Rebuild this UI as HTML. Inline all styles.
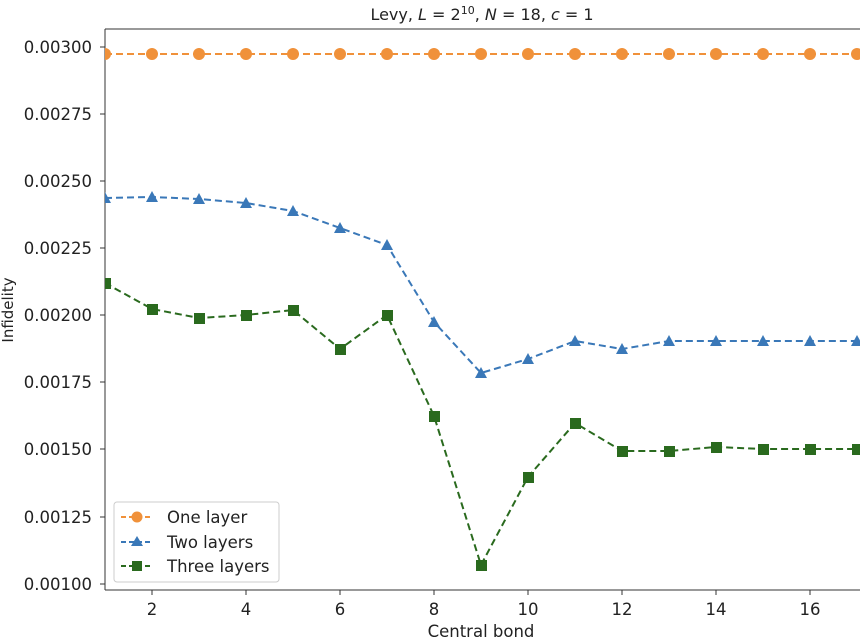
<!DOCTYPE html>
<html><head><style>body{margin:0;background:#fff}svg{display:block}text{font-family:"DejaVu Sans","Liberation Sans",sans-serif;fill:#222}</style></head>
<body>
<svg width="860" height="639" viewBox="0 0 860 639" xmlns="http://www.w3.org/2000/svg">
<defs><clipPath id="c"><rect x="105" y="29" width="755" height="561"/></clipPath></defs>
<text x="482" y="20" font-size="16" text-anchor="middle">Levy, <tspan font-style="italic">L</tspan> = 2<tspan font-size="11" dy="-6">10</tspan><tspan dy="6">, </tspan><tspan font-style="italic">N</tspan> = 18, <tspan font-style="italic">c</tspan> = 1</text>
<g stroke="#333" stroke-width="1">
<line x1="105" y1="29" x2="105" y2="590"/><line x1="105" y1="29" x2="860" y2="29"/><line x1="105" y1="590" x2="860" y2="590"/>
<line x1="100" y1="47" x2="105" y2="47"/><line x1="100" y1="114" x2="105" y2="114"/><line x1="100" y1="181" x2="105" y2="181"/><line x1="100" y1="248" x2="105" y2="248"/><line x1="100" y1="315" x2="105" y2="315"/><line x1="100" y1="382" x2="105" y2="382"/><line x1="100" y1="449" x2="105" y2="449"/><line x1="100" y1="517" x2="105" y2="517"/><line x1="100" y1="584" x2="105" y2="584"/>
<line x1="152" y1="590" x2="152" y2="595"/><line x1="246" y1="590" x2="246" y2="595"/><line x1="340" y1="590" x2="340" y2="595"/><line x1="434" y1="590" x2="434" y2="595"/><line x1="528" y1="590" x2="528" y2="595"/><line x1="622" y1="590" x2="622" y2="595"/><line x1="716" y1="590" x2="716" y2="595"/><line x1="810" y1="590" x2="810" y2="595"/>
</g>
<g font-size="16.5" text-anchor="end">
<text x="92" y="53">0.00300</text><text x="92" y="120">0.00275</text><text x="92" y="187">0.00250</text><text x="92" y="254">0.00225</text><text x="92" y="321">0.00200</text><text x="92" y="388">0.00175</text><text x="92" y="455">0.00150</text><text x="92" y="523">0.00125</text><text x="92" y="590">0.00100</text>
</g>
<g font-size="16.5" text-anchor="middle">
<text x="152" y="615">2</text><text x="246" y="615">4</text><text x="340" y="615">6</text><text x="434" y="615">8</text><text x="528" y="615">10</text><text x="622" y="615">12</text><text x="716" y="615">14</text><text x="810" y="615">16</text>
<text x="481" y="637">Central bond</text>
</g>
<text x="13" y="310" font-size="15" text-anchor="middle" transform="rotate(-90 13 310)">Infidelity</text>
<g clip-path="url(#c)">
<polyline fill="none" stroke="#f0913a" stroke-width="2" stroke-dasharray="7,4" points="105,54 857,54"/>
<g fill="#f0913a"><circle cx="105" cy="54" r="6"/><circle cx="152" cy="54" r="6"/><circle cx="199" cy="54" r="6"/><circle cx="246" cy="54" r="6"/><circle cx="293" cy="54" r="6"/><circle cx="340" cy="54" r="6"/><circle cx="387" cy="54" r="6"/><circle cx="434" cy="54" r="6"/><circle cx="481" cy="54" r="6"/><circle cx="528" cy="54" r="6"/><circle cx="575" cy="54" r="6"/><circle cx="622" cy="54" r="6"/><circle cx="669" cy="54" r="6"/><circle cx="716" cy="54" r="6"/><circle cx="763" cy="54" r="6"/><circle cx="810" cy="54" r="6"/><circle cx="857" cy="54" r="6"/></g>
<polyline fill="none" stroke="#3a78b8" stroke-width="2" stroke-dasharray="7,4" points="105,198 152,197 199,199 246,203 293,211 340,228 387,245 434,322 481,373 528,359 575,341 622,349 669,341 716,341 763,341 810,341 857,341"/>
<polyline fill="none" stroke="#2a6a1e" stroke-width="2" stroke-dasharray="7,4" points="105,283 152,309 199,318 246,315 293,310 340,349 387,315 434,416 481,565 528,477 575,423 622,451 669,451 716,447 763,449 810,449 857,449"/>
<g fill="#3a78b8">
<polygon points="105,192 111,203 99,203"/><polygon points="152,191 158,202 146,202"/><polygon points="199,193 205,204 193,204"/><polygon points="246,197 252,208 240,208"/><polygon points="293,205 299,216 287,216"/><polygon points="340,222 346,233 334,233"/><polygon points="387,239 393,250 381,250"/><polygon points="434,316 440,327 428,327"/><polygon points="481,367 487,378 475,378"/><polygon points="528,353 534,364 522,364"/><polygon points="575,335 581,346 569,346"/><polygon points="622,343 628,354 616,354"/><polygon points="669,335 675,346 663,346"/><polygon points="716,335 722,346 710,346"/><polygon points="763,335 769,346 757,346"/><polygon points="810,335 816,346 804,346"/><polygon points="857,335 863,346 851,346"/>
</g>
<g fill="#2a6a1e">
<rect x="100" y="278" width="11" height="11"/><rect x="147" y="304" width="11" height="11"/><rect x="194" y="313" width="11" height="11"/><rect x="241" y="310" width="11" height="11"/><rect x="288" y="305" width="11" height="11"/><rect x="335" y="344" width="11" height="11"/><rect x="382" y="310" width="11" height="11"/><rect x="429" y="411" width="11" height="11"/><rect x="476" y="560" width="11" height="11"/><rect x="523" y="472" width="11" height="11"/><rect x="570" y="418" width="11" height="11"/><rect x="617" y="446" width="11" height="11"/><rect x="664" y="446" width="11" height="11"/><rect x="711" y="442" width="11" height="11"/><rect x="758" y="444" width="11" height="11"/><rect x="805" y="444" width="11" height="11"/><rect x="852" y="444" width="11" height="11"/>
</g>
</g>
<rect x="114" y="502" width="165" height="80" rx="3" fill="#fff" fill-opacity="0.85" stroke="#ccc"/>
<g stroke-width="2" stroke-dasharray="5,3">
<line x1="121" y1="517" x2="153" y2="517" stroke="#f0913a"/><line x1="121" y1="542" x2="153" y2="542" stroke="#3a78b8"/><line x1="121" y1="566" x2="153" y2="566" stroke="#2a6a1e"/>
</g>
<circle cx="137" cy="517" r="5.5" fill="#f0913a"/>
<polygon points="137,536 143,546 131,546" fill="#3a78b8"/>
<rect x="132" y="561" width="10" height="10" fill="#2a6a1e"/>
<g font-size="16.5"><text x="167" y="523">One layer</text><text x="167" y="548">Two layers</text><text x="167" y="572">Three layers</text></g>
</svg>
</body></html>
